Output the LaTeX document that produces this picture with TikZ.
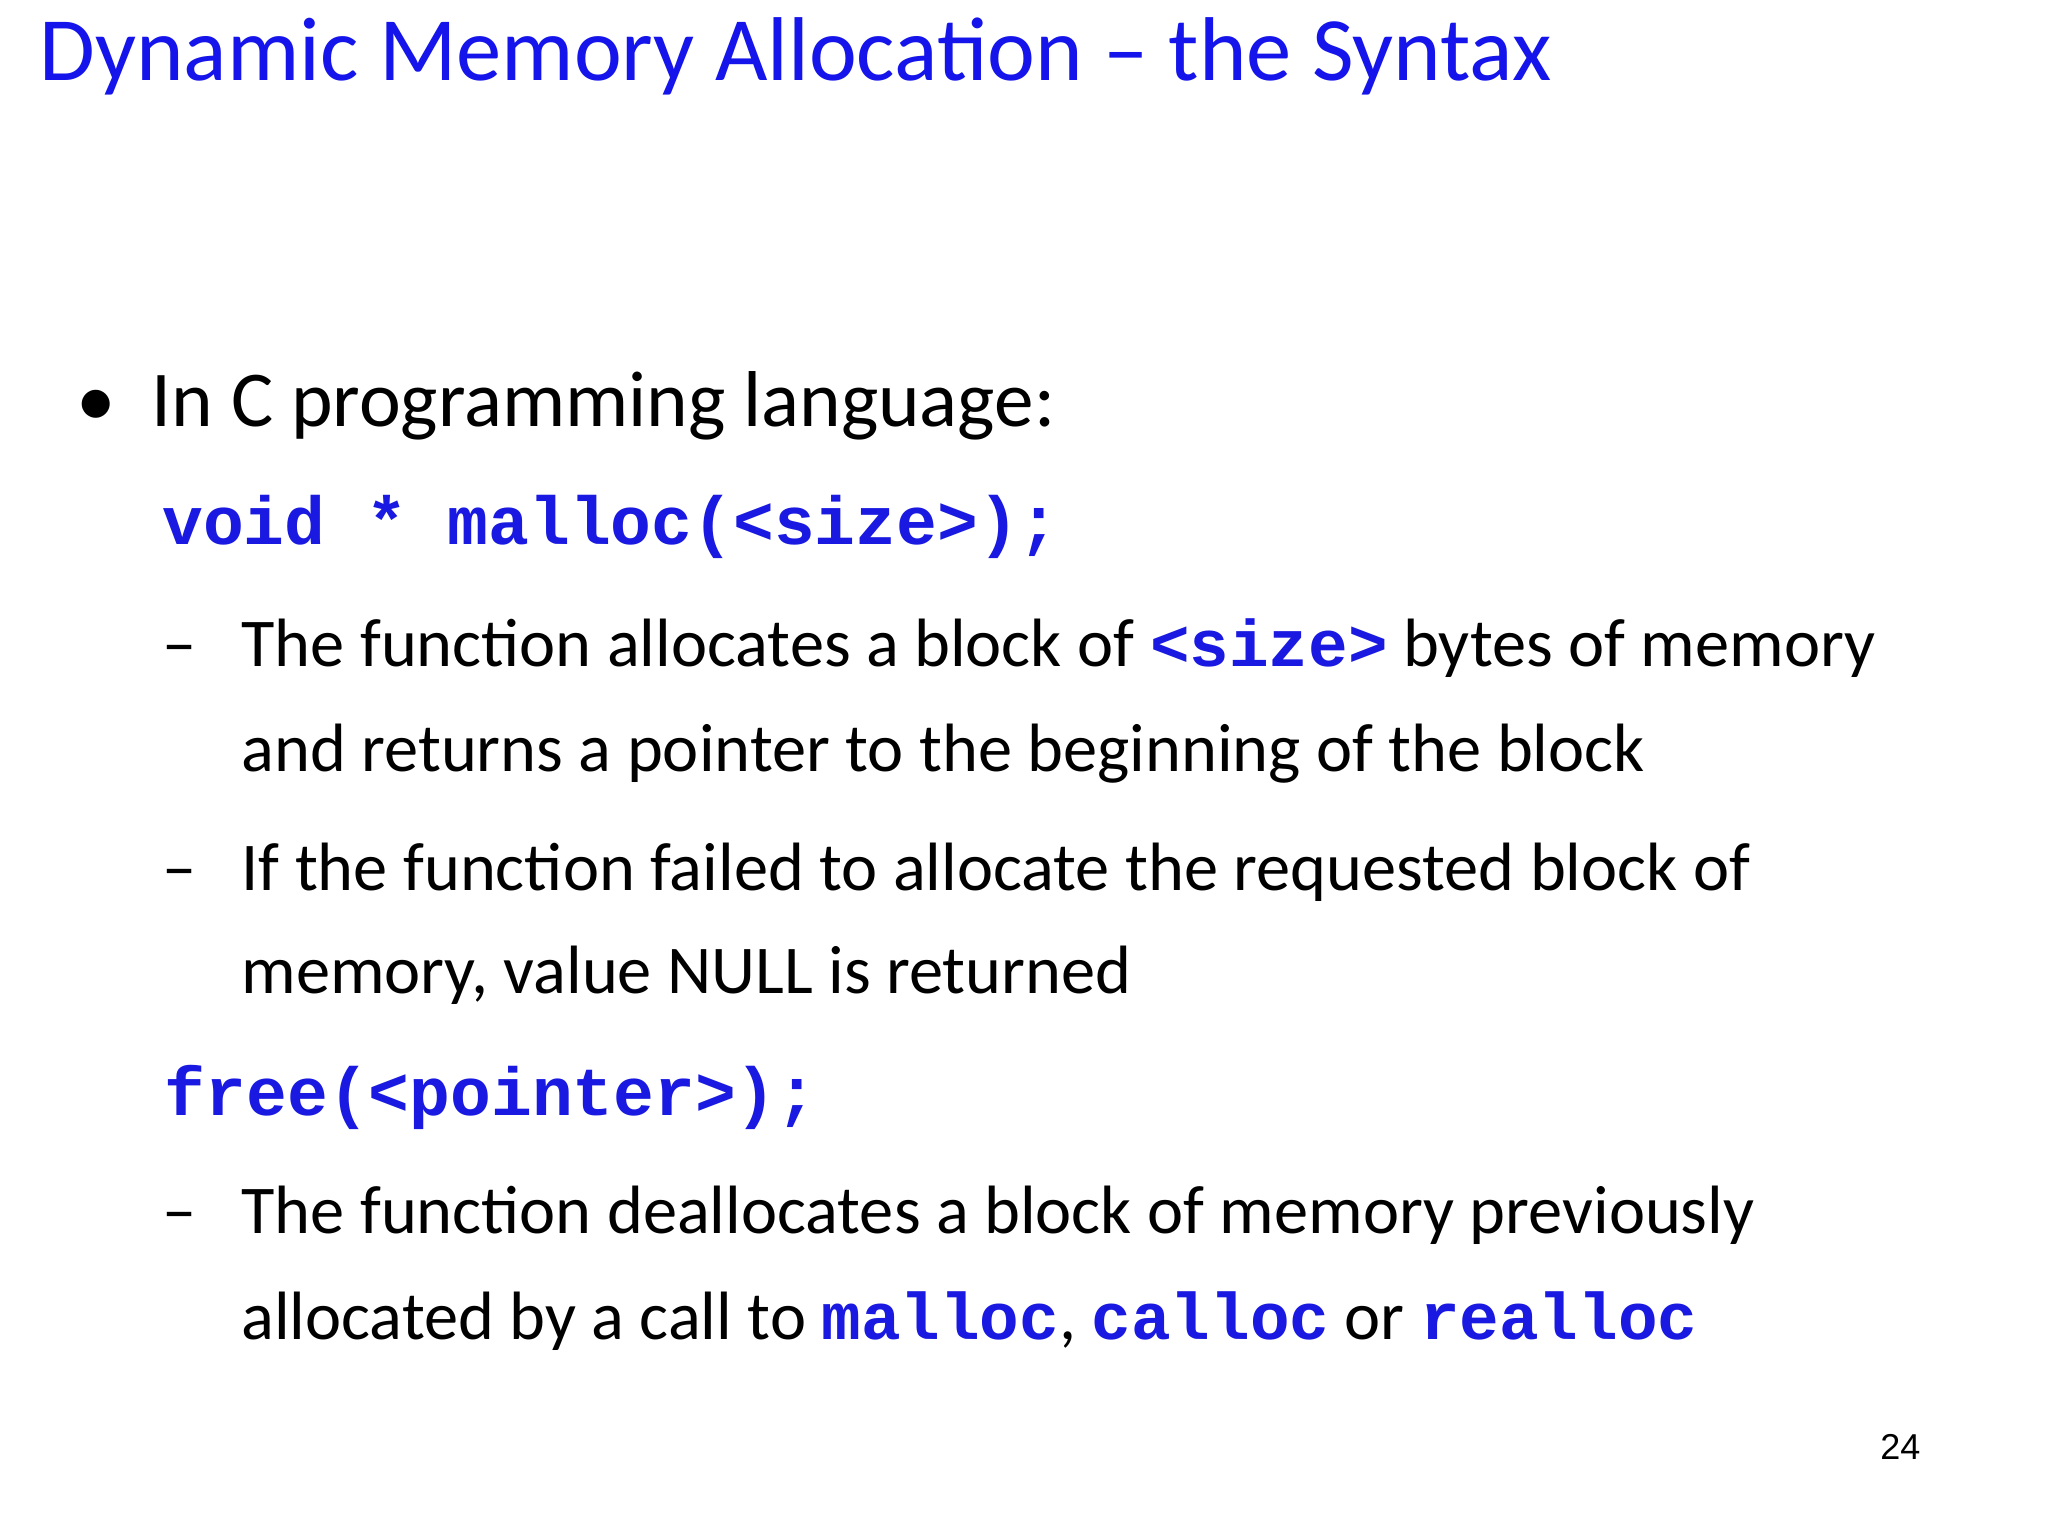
\documentclass[tikz,border=0pt]{standalone}
\usepackage{fontspec}
\setmainfont{Carlito}
\newfontfamily\codef{Liberation Mono}[BoldFont={Liberation Mono Bold}]
\newfontfamily\numf{Liberation Sans}
\definecolor{tblue}{RGB}{20,20,235}
\definecolor{cblue}{RGB}{25,25,225}
\newcommand{\cd}[1]{{\codef\bfseries\color{cblue}#1}}
\begin{document}
\begin{tikzpicture}[x=0.66pt,y=-0.66pt,
  t/.style={anchor=base west,inner sep=0pt,outer sep=0pt},
  body/.style={t,font=\fontsize{39.6}{46}\selectfont},
  sub/.style={t,font=\fontsize{34.2}{40}\selectfont},
  code/.style={t,font=\fontsize{34}{40}\codef\bfseries,text=cblue}]
\useasboundingbox[fill=white] (0,0) rectangle (1552,1164);
\node[t,font=\fontsize{45.3}{52}\selectfont,text=tblue] (title) at (30,61) {Dynamic Memory Allocation -- the Syntax};
\node[body] (bul) at (58,323) {\textbullet};
\node[body] (l1) at (115,323) {In C programming language:};
\node[code] (c1) at (123,413) {void * malloc(<size>);};
\node[sub] (d1) at (123,505) {--};
\node[sub] (l2) at (183,505) {The function allocates a block of \cd{\fontsize{33}{40}\selectfont<size>} bytes of memory};
\node[sub] (l3) at (183,585) {and returns a pointer to the beginning of the block};
\node[sub] (d2) at (123,675) {--};
\node[sub] (l4) at (183,675) {If the function failed to allocate the requested block of};
\node[sub] (l5) at (183,753) {memory, value NULL is returned};
\node[code] (c2) at (125,845) {free(<pointer>);};
\node[sub] (d3) at (123,935) {--};
\node[sub] (l6) at (183,935) {The function deallocates a block of memory previously};
\node[sub] (l7) at (183,1015) {allocated by a call to \cd{\fontsize{33}{40}\selectfont malloc}, \cd{\fontsize{33}{40}\selectfont calloc} or \cd{\fontsize{33}{40}\selectfont realloc}};
\node[t,font=\fontsize{18}{22}\numf] (pg) at (1425,1106) {24};
\end{tikzpicture}
\end{document}
